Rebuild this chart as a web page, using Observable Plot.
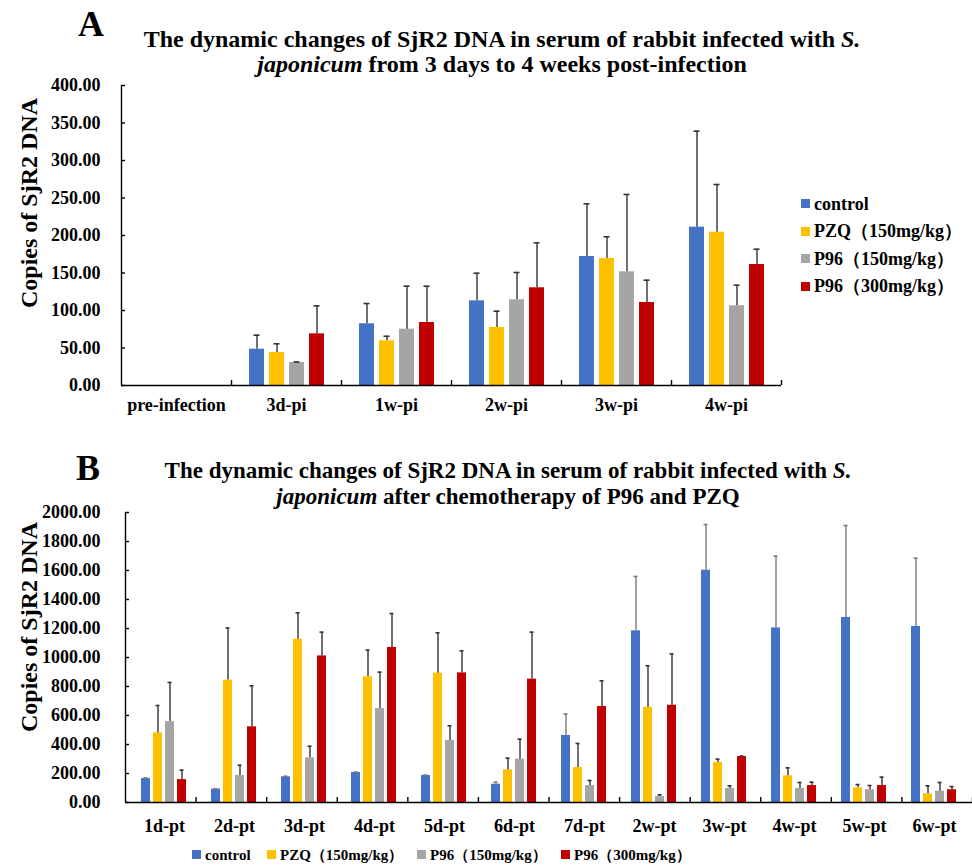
<!DOCTYPE html>
<html><head><meta charset="utf-8">
<script src="https://cdn.jsdelivr.net/npm/d3@7"></script>
<script src="https://cdn.jsdelivr.net/npm/@observablehq/plot@0.6"></script>
<style>
body{margin:0;background:#fff;}
#root{position:relative;width:972px;height:867px;font-family:"Liberation Serif","Times New Roman",serif;font-weight:bold;color:#000;overflow:hidden;background:#fff}
.abs{position:absolute;white-space:nowrap;line-height:1}
.layer{position:absolute;left:0}
.sw{display:inline-block;width:9px;height:9px;margin-right:4px;vertical-align:middle;position:relative;top:-2px}
svg text{font-family:"Liberation Serif","Times New Roman",serif;font-weight:bold}
</style></head><body><div id="root"></div>
<script>
// ---------- data ----------
const seriesNames = ["control", "PZQ（150mg/kg）", "P96（150mg/kg）", "P96（300mg/kg）"];
const seriesColors = ["#4472C4", "#FFC000", "#A5A5A5", "#C00000"];

// Panel A
const categoriesA = ["pre-infection", "3d-pi", "1w-pi", "2w-pi", "3w-pi", "4w-pi"];
const controlA    = [0, 48.4, 82.3, 112.9, 172.0, 211.1];
const controlA_sd = [0, 18.7, 27.0, 36.8, 70.3, 128.0];
const pzqA        = [0, 44.0, 59.6, 77.3, 169.3, 204.4];
const pzqA_sd     = [0, 11.6, 6.1, 21.8, 29.0, 63.6];
const p96lowA     = [0, 30.7, 75.1, 114.3, 151.6, 106.3];
const p96lowA_sd  = [0, 0.6, 57.3, 36.4, 103.1, 27.4];
const p96highA    = [0, 68.9, 84.0, 130.3, 110.7, 161.3];
const p96highA_sd = [0, 37.3, 48.4, 60.0, 29.7, 20.4];
const yTicksA = [0, 50, 100, 150, 200, 250, 300, 350, 400];

// Panel B
const categoriesB = ["1d-pt", "2d-pt", "3d-pt", "4d-pt", "5d-pt", "6d-pt", "7d-pt", "2w-pt", "3w-pt", "4w-pt", "5w-pt", "6w-pt"];
const controlB    = [165, 92, 177, 207, 186, 126, 462, 1184, 1602, 1204, 1276, 1214];
const controlB_sd = [5, 3, 4, 3, 3, 14, 149, 375, 315, 495, 634, 471];
const pzqB        = [480, 844, 1126, 867, 892, 225, 241, 657, 276, 184, 101, 60];
const pzqB_sd     = [189, 360, 182, 184, 278, 81, 166, 286, 23, 55, 23, 55];
const p96lowB     = [558, 186, 308, 648, 428, 299, 117, 41, 97, 97, 88, 78];
const p96lowB_sd  = [270, 71, 80, 251, 101, 138, 35, 12, 18, 41, 29, 60];
const p96highB    = [158, 522, 1011, 1069, 894, 851, 662, 671, 317, 117, 117, 88];
const p96highB_sd = [65, 283, 164, 234, 152, 324, 177, 354, 3, 23, 58, 22];
const yTicksB = [0, 200, 400, 600, 800, 1000, 1200, 1400, 1600, 1800, 2000];

const titleA1 = ["The dynamic changes of SjR2 DNA in serum of rabbit infected with ", "S."];
const titleA2 = ["japonicum", " from 3 days to 4 weeks post-infection"];
const titleB1 = ["The dynamic changes of SjR2 DNA in serum of rabbit infected with ", "S."];
const titleB2 = ["japonicum", " after chemotherapy of P96 and PZQ"];
const yLabel = "Copies of SjR2 DNA";

// ---------- helpers ----------
function table(cats, vals, sds) {
  const rows = [];
  cats.forEach((c, i) => seriesNames.forEach((s, j) => rows.push({cat: c, series: s, value: vals[j][i], sd: sds[j][i]})));
  return rows;
}
const root = document.getElementById("root");
function add(html, css, cls = "abs") {
  const d = document.createElement("div");
  d.className = cls;
  Object.assign(d.style, css);
  d.innerHTML = html;
  root.appendChild(d);
  return d;
}
const fmt = d3.format(".2f");

function panel(o) {
  const data = table(o.cats, o.vals, o.sds);
  const withErr = data.filter(d => d.value > 0 && d.sd > 0);
  const common = {width: 972, height: o.height, marginLeft: o.ml, marginRight: o.mr, marginTop: o.mt, marginBottom: o.mb,
    style: {fontFamily: '"Liberation Serif","Times New Roman",serif', fontWeight: "bold", fontSize: "18px", background: "transparent", color: "#000"}};
  const errStroke = d => d.series === seriesNames[0] ? o.ctrlErr : "#333";
  const main = Plot.plot({
    ...common,
    fx: {domain: o.cats, padding: 0, label: null},
    x: {domain: seriesNames, paddingInner: o.pin, paddingOuter: o.pout, axis: null},
    y: {domain: [0, o.yMax], axis: null},
    color: {domain: seriesNames, range: seriesColors},
    marks: [
      Plot.barY(data, {fx: "cat", x: "series", y: "value", fill: "series"}),
      Plot.ruleX(withErr, {fx: "cat", x: "series", y1: "value", y2: d => d.value + d.sd, stroke: errStroke, strokeWidth: 1.4}),
      Plot.tickY(withErr, {fx: "cat", x: "series", y: d => d.value + d.sd, stroke: errStroke, strokeWidth: 1.6, insetLeft: o.cap, insetRight: o.cap}),
      Plot.axisFx({anchor: "bottom", tickSize: 0, tickPadding: o.fxPad, fontSize: o.fxFont, label: null})
    ]
  });
  const axes = Plot.plot({
    ...common,
    x: {domain: [0, o.cats.length], axis: null},
    y: {domain: [0, o.yMax], axis: null},
    marks: [
      Plot.ruleY([0], {stroke: "#000", strokeWidth: 1.4}),
      Plot.ruleX([0], {stroke: "#000", strokeWidth: 1.4}),
      Plot.axisX({anchor: "bottom", ticks: d3.range(1, o.cats.length + 1), tickSize: -5, tickFormat: () => "", label: null, strokeWidth: 1.4}),
      Plot.axisY({anchor: "left", ticks: o.yTicks, tickSize: -4, tickPadding: o.yPad, tickFormat: fmt, fontSize: o.yFont, label: null, strokeWidth: 1.4})
    ]
  });
  const l1 = add("", {top: o.top + "px"}, "layer"); l1.appendChild(main);
  const l2 = add("", {top: o.top + "px"}, "layer"); l2.appendChild(axes);
}
function title(lines, cx, top, size, gap) {
  lines.forEach((html, i) => add(html, {left: cx + "px", top: (top + i * gap) + "px", fontSize: size + "px", transform: "translateX(-50%)"}));
}

// ---------- panel A ----------
add("A", {left: "78px", top: "6px", fontSize: "36px"});
title([`${titleA1[0]}<i>${titleA1[1]}</i>`, `<i>${titleA2[0]}</i>${titleA2[1]}`], 502, 27, 24, 25);
add(yLabel, {left: "29px", top: "203px", fontSize: "24px", transform: "translate(-50%,-50%) rotate(-90deg)"});
panel({cats: categoriesA, vals: [controlA, pzqA, p96lowA, p96highA], sds: [controlA_sd, pzqA_sd, p96lowA_sd, p96highA_sd],
  yMax: 400, yTicks: yTicksA, top: 70, height: 360, ml: 121, mr: 191, mt: 15, mb: 45,
  pin: 0.25, pout: 0.875, cap: 4.5, fxPad: 13, fxFont: 18, yPad: 25, yFont: 18, ctrlErr: "#333"});
seriesNames.forEach((s, i) => add(`<span class="sw" style="background:${seriesColors[i]}"></span>${s}`,
  {left: "801px", top: (195 + i * 27.4) + "px", fontSize: "18px"}));

// ---------- panel B ----------
add("B", {left: "76px", top: "450px", fontSize: "36px"});
title([`${titleB1[0]}<i>${titleB1[1]}</i>`, `<i>${titleB2[0]}</i>${titleB2[1]}`], 508, 459, 23, 26);
add(yLabel, {left: "29px", top: "627px", fontSize: "24px", transform: "translate(-50%,-50%) rotate(-90deg)"});
panel({cats: categoriesB, vals: [controlB, pzqB, p96lowB, p96highB], sds: [controlB_sd, pzqB_sd, p96lowB_sd, p96highB_sd],
  yMax: 2000, yTicks: yTicksB, top: 497, height: 345, ml: 125, mr: 0, mt: 15, mb: 40,
  pin: 0.23, pout: 0.83, cap: 2.5, fxPad: 17, fxFont: 18, yPad: 29, yFont: 18, ctrlErr: "#7a7a7a"});
const legBx = [192, 267, 417, 561];
seriesNames.forEach((s, i) => add(`<span class="sw" style="background:${seriesColors[i]}"></span>${s}`,
  {left: legBx[i] + "px", top: "848px", fontSize: "15px"}));
</script></body></html>
